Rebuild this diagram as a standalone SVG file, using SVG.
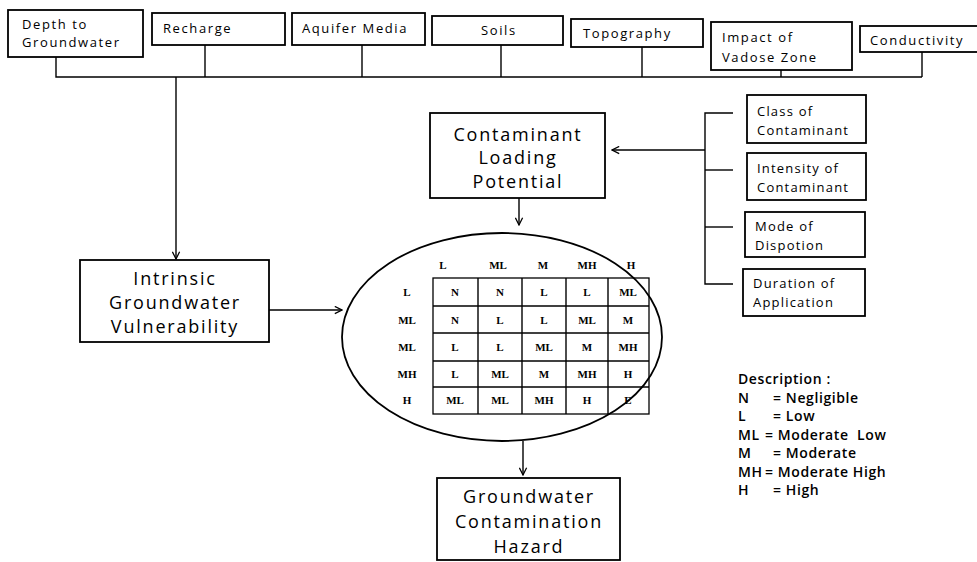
<svg xmlns="http://www.w3.org/2000/svg" width="977" height="562" viewBox="0 0 977 562">
<defs>
<marker id="ah" viewBox="0 0 10 10" refX="9" refY="5" markerWidth="9" markerHeight="9" markerUnits="userSpaceOnUse" orient="auto">
<path d="M1,1 L9,5 L1,9" fill="none" stroke="#000" stroke-width="1.4"/>
</marker>
</defs>
<style>
.box{fill:#fff;stroke:#000;stroke-width:1.8}
.ln{fill:none;stroke:#000;stroke-width:1.4}
.t{font-family:"Open Sans","Liberation Sans",sans-serif;fill:#000}
.top{font-size:13px;letter-spacing:1.6px}
.big{font-size:18px;letter-spacing:1.8px;text-anchor:middle}
.rt{font-size:13px;letter-spacing:1.2px}
.cell{font-family:"Liberation Serif",serif;font-size:11px;font-weight:bold;text-anchor:middle;fill:#000}
.leg{font-size:14px;font-weight:600;letter-spacing:0.6px}
</style>
<rect width="977" height="562" fill="#fff"/>

<g id="connectors">
<polyline class="ln" points="56,57 56,77 922,77"/>
<line class="ln" x1="205" y1="45" x2="205" y2="77"/>
<line class="ln" x1="362" y1="45" x2="362" y2="77"/>
<line class="ln" x1="501" y1="45" x2="501" y2="77"/>
<line class="ln" x1="642" y1="47" x2="642" y2="77"/>
<line class="ln" x1="781" y1="70" x2="781" y2="77"/>
<line class="ln" x1="922" y1="52" x2="922" y2="77"/>
<line class="ln" x1="176" y1="77" x2="176" y2="259" marker-end="url(#ah)"/>
<line class="ln" x1="269" y1="310" x2="342" y2="310" marker-end="url(#ah)"/>
<line class="ln" x1="519" y1="198" x2="519" y2="225" marker-end="url(#ah)"/>
<polyline class="ln" points="733,113 705,113 705,284 733,284"/>
<line class="ln" x1="705" y1="170" x2="733" y2="170"/>
<line class="ln" x1="705" y1="227" x2="733" y2="227"/>
<line class="ln" x1="705" y1="150" x2="612" y2="150" marker-end="url(#ah)"/>
<line class="ln" x1="523" y1="441" x2="523" y2="475" marker-end="url(#ah)"/>
</g>

<g id="n-depth"><rect class="box" x="8" y="10" width="135" height="47"/>
<text class="t top" x="22" y="29">Depth to</text><text class="t top" x="22" y="47">Groundwater</text></g>
<g id="n-recharge"><rect class="box" x="152" y="13" width="133" height="32"/>
<text class="t top" x="163" y="33">Recharge</text></g>
<g id="n-aquifer"><rect class="box" x="292" y="13" width="133" height="32"/>
<text class="t top" x="302" y="33">Aquifer Media</text></g>
<g id="n-soils"><rect class="box" x="432" y="16" width="131" height="29"/>
<text class="t top" x="481" y="35">Soils</text></g>
<g id="n-topo"><rect class="box" x="571" y="19" width="132" height="28"/>
<text class="t top" x="583" y="38">Topography</text></g>
<g id="n-vadose"><rect class="box" x="711" y="22" width="141" height="48"/>
<text class="t top" x="722" y="42">Impact of</text><text class="t top" x="722" y="62">Vadose Zone</text></g>
<g id="n-cond"><rect class="box" x="860" y="26" width="120" height="26"/>
<text class="t top" x="870" y="45">Conductivity</text></g>

<g id="n-clp"><rect class="box" x="430" y="113" width="175" height="85"/>
<text class="t big" x="518" y="141">Contaminant</text><text class="t big" x="518" y="164">Loading</text><text class="t big" x="518" y="188">Potential</text></g>

<g id="n-class"><rect class="box" x="747" y="95" width="119" height="48"/>
<text class="t rt" x="757" y="116">Class of</text><text class="t rt" x="757" y="135">Contaminant</text></g>
<g id="n-intensity"><rect class="box" x="747" y="153" width="119" height="47"/>
<text class="t rt" x="757" y="173">Intensity of</text><text class="t rt" x="757" y="192">Contaminant</text></g>
<g id="n-mode"><rect class="box" x="745" y="212" width="120" height="45"/>
<text class="t rt" x="755" y="231">Mode of</text><text class="t rt" x="755" y="250">Dispotion</text></g>
<g id="n-duration"><rect class="box" x="743" y="269" width="122" height="47"/>
<text class="t rt" x="753" y="288">Duration of</text><text class="t rt" x="753" y="307">Application</text></g>

<g id="n-igv"><rect class="box" x="80" y="260" width="189" height="82"/>
<text class="t big" x="175" y="285">Intrinsic</text><text class="t big" x="175" y="309">Groundwater</text><text class="t big" x="175" y="333">Vulnerability</text></g>

<g id="n-matrix">
<ellipse cx="502" cy="337" rx="160" ry="104" fill="#fff"/>
<rect x="433" y="278" width="216" height="136" fill="#fff" stroke="#000" stroke-width="1.3"/>
<g class="ln" stroke-width="1.2">
<line x1="478" y1="278" x2="478" y2="414"/><line x1="522" y1="278" x2="522" y2="414"/>
<line x1="566" y1="278" x2="566" y2="414"/><line x1="608" y1="278" x2="608" y2="414"/>
<line x1="433" y1="306" x2="649" y2="306"/><line x1="433" y1="333" x2="649" y2="333"/>
<line x1="433" y1="361" x2="649" y2="361"/><line x1="433" y1="387" x2="649" y2="387"/>
</g>
<ellipse cx="502" cy="337" rx="160" ry="104" fill="none" stroke="#000" stroke-width="1.8"/>
<text class="cell" x="443" y="269">L</text><text class="cell" x="498" y="269">ML</text><text class="cell" x="543" y="269">M</text><text class="cell" x="587" y="269">MH</text><text class="cell" x="631" y="269">H</text>
<text class="cell" x="407" y="296">L</text><text class="cell" x="407" y="324">ML</text><text class="cell" x="407" y="351">ML</text><text class="cell" x="407" y="378">MH</text><text class="cell" x="407" y="404">H</text>
<text class="cell" x="455" y="296">N</text><text class="cell" x="500" y="296">N</text><text class="cell" x="544" y="296">L</text><text class="cell" x="587" y="296">L</text><text class="cell" x="628" y="296">ML</text>
<text class="cell" x="455" y="324">N</text><text class="cell" x="500" y="324">L</text><text class="cell" x="544" y="324">L</text><text class="cell" x="587" y="324">ML</text><text class="cell" x="628" y="324">M</text>
<text class="cell" x="455" y="351">L</text><text class="cell" x="500" y="351">L</text><text class="cell" x="544" y="351">ML</text><text class="cell" x="587" y="351">M</text><text class="cell" x="628" y="351">MH</text>
<text class="cell" x="455" y="378">L</text><text class="cell" x="500" y="378">ML</text><text class="cell" x="544" y="378">M</text><text class="cell" x="587" y="378">MH</text><text class="cell" x="628" y="378">H</text>
<text class="cell" x="455" y="404">ML</text><text class="cell" x="500" y="404">ML</text><text class="cell" x="544" y="404">MH</text><text class="cell" x="587" y="404">H</text><text class="cell" x="628" y="404">E</text>
</g>

<g id="n-gch"><rect class="box" x="437" y="478" width="183" height="82"/>
<text class="t big" x="529" y="503">Groundwater</text><text class="t big" x="529" y="528">Contamination</text><text class="t big" x="529" y="553">Hazard</text></g>

<g id="legend">
<text class="t leg" x="738" y="384">Description :</text>
<text class="t leg" x="738" y="403">N</text><text class="t leg" x="773" y="403">= Negligible</text>
<text class="t leg" x="738" y="421">L</text><text class="t leg" x="773" y="421">= Low</text>
<text class="t leg" x="738" y="440">ML</text><text class="t leg" x="765" y="440" xml:space="preserve">= Moderate  Low</text>
<text class="t leg" x="738" y="458">M</text><text class="t leg" x="773" y="458">= Moderate</text>
<text class="t leg" x="738" y="477">MH</text><text class="t leg" x="765" y="477">= Moderate High</text>
<text class="t leg" x="738" y="495">H</text><text class="t leg" x="773" y="495">= High</text>
</g>
</svg>
